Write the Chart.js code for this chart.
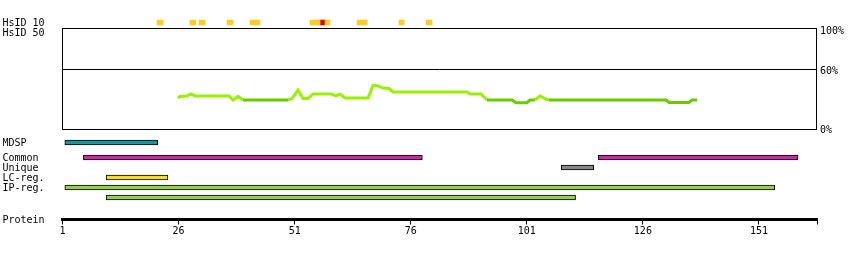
<!DOCTYPE html>
<html>
<head>
<meta charset="utf-8">
<script src="https://cdn.jsdelivr.net/npm/chart.js@4.4.0/dist/chart.umd.min.js"></script>
<style>
  body { margin: 0; background: #fff; }
  #wrap { position: relative; width: 850px; height: 260px; }
  canvas { position: absolute; left: 0; }
</style>
</head>
<body>
<div id="wrap">
  <canvas id="g_line" width="850" height="140" style="top:0px"></canvas>
  <canvas id="g_hsid" width="850" height="40" style="top:0px"></canvas>
  <canvas id="g_tracks" width="850" height="80" style="top:130px"></canvas>
  <canvas id="g_protein" width="850" height="45" style="top:200px"></canvas>
</div>
<script>
// datos
var proteinTicks = [1, 26, 51, 76, 101, 126, 151];
var proteinEnd = 163.5;

var hsidLabels = ['HsID 10', 'HsID 50'];
var hsid10 = [[21.35, 22.65], [28.46, 29.75], [30.4, 31.69], [36.43, 37.72], [41.38, 43.54],
              [54.31, 56.47], [57.54, 58.62], [64.43, 66.59], [73.48, 74.56], [79.3, 80.59]];
var hsid10Red = [[56.47, 57.54]];

var hsid50Pos = [25.88, 26.31, 27.82, 28.68, 29.54, 36.86, 37.72, 38.8, 39.88, 49.57,
                 50.43, 51.72, 52.8, 53.88, 54.95, 58.83, 59.9, 60.77, 61.84, 66.8,
                 67.87, 68.95, 70.03, 71.32, 72.18, 88.12, 88.77, 91.14, 92.43, 97.81,
                 98.67, 101.04, 101.69, 102.77, 103.84, 105.14, 105.78, 130.98, 131.63, 135.93,
                 136.58, 137.66];
var hsid50Pct = [31.75, 33.3, 33.8, 35.8, 33.8, 33.8, 29.7, 33.3, 29.7, 29.7,
                 31.25, 39.8, 31.25, 31.25, 35.8, 35.8, 33.8, 35.8, 31.75, 31.75,
                 44.4, 43.9, 41.8, 41.3, 37.8, 37.8, 35.8, 35.8, 29.7, 29.7,
                 27.0, 27.0, 29.7, 29.7, 33.8, 30.7, 29.7, 29.7, 27.2, 27.2,
                 29.7, 29.7];
var pctTicks = [0, 60, 100];

var trackLabels = ['MDSP', 'Common', 'Unique', 'LC-reg.', 'IP-reg.'];
var mdsp = [[1.5, 21.5]];
var common = [[5.5, 78.5], [116.4, 159.4]];
var unique = [[108.4, 115.4]];
var lcReg = [[10.4, 23.7]];
var ipReg = [[1.5, 154.4]];
var ipReg2 = [[10.4, 111.5]];

// filas de las pistas (posicion vertical en la escala de filas)
var trackRows = [0, 1.5, 2.5, 3.5, 4.5];

Chart.defaults.font.family = "'DejaVu Sans Mono', monospace";
Chart.defaults.font.size = 10;
Chart.defaults.color = '#000';
Chart.defaults.animation = false;
Chart.defaults.responsive = false;
Chart.defaults.plugins.legend.display = false;
Chart.defaults.plugins.tooltip.enabled = false;

var LEFT_W = 60;
var RIGHT_W = 33;

function sinRelleno(s) {
  s.paddingTop = 0;
  s.paddingBottom = 0;
}

function ejeIzq(extra) {
  return Object.assign({
    position: 'left',
    grid: { display: false, drawTicks: false },
    border: { display: false },
    ticks: { crossAlign: 'far', padding: 0, autoSkip: false, labelOffset: 1 },
    afterFit: function (s) { s.width = LEFT_W; sinRelleno(s); }
  }, extra);
}

function ejeX() {
  return { type: 'linear', min: 1, max: proteinEnd, display: false };
}

// caja del grafico HsID 50
var cajaPlugin = {
  id: 'caja',
  afterDraw: function (chart) {
    var a = chart.chartArea, c = chart.ctx;
    var l = Math.floor(a.left), t = Math.floor(a.top), r = Math.floor(a.right), b = Math.floor(a.bottom);
    c.save();
    c.strokeStyle = '#000';
    c.lineWidth = 1;
    c.strokeRect(l + 0.5, t + 0.5, r - l - 1, b - t);
    c.restore();
  }
};

var lightGreen = '#99f000';
var darkGreen = '#66cc00';

new Chart(document.getElementById('g_line'), {
  type: 'line',
  data: {
    datasets: [{
      data: hsid50Pos.map(function (p, i) { return { x: p, y: hsid50Pct[i] }; }),
      borderColor: lightGreen,
      borderWidth: 3,
      pointRadius: 0,
      tension: 0,
      segment: {
        borderColor: function (ctx) {
          return (ctx.p0.parsed.y < 30.2 && ctx.p1.parsed.y < 30.2) ? darkGreen : lightGreen;
        }
      }
    }]
  },
  options: {
    layout: { padding: { left: 62.5, top: 28, bottom: 10.5, right: 0 } },
    scales: {
      x: ejeX(),
      y: {
        position: 'right', min: 0, max: 102.3,
        afterBuildTicks: function (s) { s.ticks = pctTicks.map(function (v) { return { value: v }; }); },
        afterFit: function (s) { s.width = RIGHT_W; sinRelleno(s); },
        border: { display: false },
        grid: {
          drawTicks: false,
          color: function (ctx) { return ctx.tick && ctx.tick.value === 60 ? '#000' : 'rgba(0,0,0,0)'; }
        },
        ticks: { padding: 3, labelOffset: 1, callback: function (v) { return v + '%'; } }
      }
    }
  },
  plugins: [cajaPlugin]
});

new Chart(document.getElementById('g_hsid'), {
  type: 'bar',
  data: {
    labels: hsidLabels,
    datasets: [
      { data: hsid10.map(function (r) { return { x: r, y: 'HsID 10' }; }), backgroundColor: '#ffcc22' },
      { data: hsid10Red.map(function (r) { return { x: r, y: 'HsID 10' }; }), backgroundColor: '#dd0000' }
    ]
  },
  options: {
    indexAxis: 'y',
    grouped: false,
    barThickness: 5,
    layout: { padding: { left: 2.5, top: 17.5, bottom: 2.5, right: RIGHT_W } },
    scales: {
      x: ejeX(),
      y: ejeIzq({ type: 'category', offset: true })
    }
  }
});

function pista(segs, fila, color) {
  return {
    data: segs.map(function (s) { return { x: s, y: fila }; }),
    backgroundColor: color,
    borderColor: '#000',
    borderWidth: 1,
    borderSkipped: false
  };
}

new Chart(document.getElementById('g_tracks'), {
  type: 'bar',
  data: {
    datasets: [
      pista(mdsp, trackRows[0], '#129a9a'),
      pista(common, trackRows[1], '#cc2aa4'),
      pista(unique, trackRows[2], '#888888'),
      pista(lcReg, trackRows[3], '#f0e020'),
      pista(ipReg, trackRows[4], '#99cc55'),
      pista(ipReg2, trackRows[4] + 1, '#99cc55')
    ]
  },
  options: {
    indexAxis: 'y',
    grouped: false,
    barThickness: 5,
    layout: { padding: { left: 2.5, top: 2.5, bottom: 2.5, right: RIGHT_W } },
    scales: {
      x: ejeX(),
      y: ejeIzq({
        type: 'linear', reverse: true, min: -1, max: 6.5, offset: false,
        afterBuildTicks: function (s) { s.ticks = trackRows.map(function (v) { return { value: v }; }); },
        ticks: { crossAlign: 'far', padding: 0, autoSkip: false, labelOffset: 1,
                 callback: function (v, i) { return trackLabels[i]; } }
      })
    }
  }
});

new Chart(document.getElementById('g_protein'), {
  type: 'line',
  data: { datasets: [{ data: [] }] },
  options: {
    layout: { padding: { left: 2.5, top: 10, bottom: 5.5, right: RIGHT_W } },
    scales: {
      x: {
        type: 'linear', min: 1, max: proteinEnd,
        afterBuildTicks: function (s) {
          s.ticks = proteinTicks.concat([proteinEnd]).map(function (v) { return { value: v }; });
        },
        afterFit: function (s) { s.height = 20; },
        grid: { drawOnChartArea: false, color: '#000', tickLength: 5, lineWidth: 1 },
        border: { display: true, width: 3, color: '#000' },
        ticks: {
          autoSkip: false, maxRotation: 0, padding: 1,
          callback: function (v) { return proteinTicks.indexOf(v) >= 0 ? String(v) : ''; }
        }
      },
      y: ejeIzq({
        type: 'linear', min: 0, max: 1,
        afterBuildTicks: function (s) { s.ticks = [{ value: 0 }]; },
        ticks: { crossAlign: 'far', padding: 0, labelOffset: 1, callback: function () { return 'Protein'; } }
      })
    }
  }
});
</script>
</body>
</html>
